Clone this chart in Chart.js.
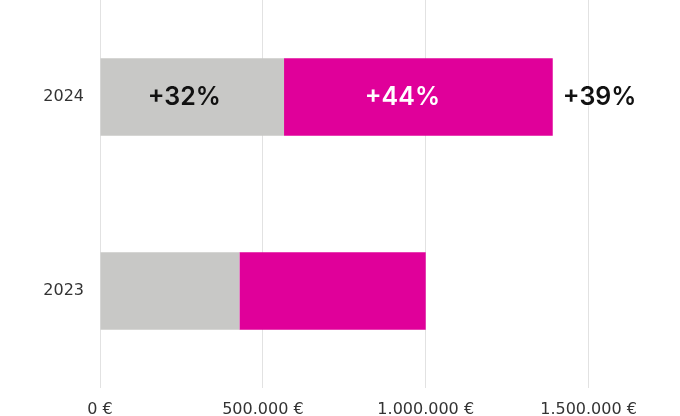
<!DOCTYPE html>
<html>
<head>
<meta charset="utf-8">
<script src="https://cdn.jsdelivr.net/npm/chart.js@4/dist/chart.umd.min.js"></script>
<style>
html,body{margin:0;padding:0;background:#fff;}
#wrap{width:680px;height:416px;}
</style>
</head>
<body>
<div id="wrap"><canvas id="c"></canvas></div>
<script>
const categories = ['2024', '2023'];
const grayValues = [565000, 428000];
const magentaValues = [825000, 572000];
const grayLabels = ['+32%', ''];
const magentaLabels = ['+44%', ''];
const totalLabels = ['+39%', ''];
const tickValues = [0, 500000, 1000000, 1500000];

const labelPlugin = {
  id: 'barLabels',
  afterDatasetsDraw(chart) {
    const ctx = chart.ctx;
    ctx.save();
    ctx.font = '600 25px Inter, "Noto Sans", sans-serif';
    ctx.textBaseline = 'middle';
    const m0 = chart.getDatasetMeta(0), m1 = chart.getDatasetMeta(1);
    categories.forEach((c, i) => {
      const g = m0.data[i], m = m1.data[i];
      if (grayLabels[i]) {
        ctx.fillStyle = '#111';
        ctx.textAlign = 'center';
        ctx.fillText(grayLabels[i], (g.x + g.base) / 2 - 8, g.y);
      }
      if (magentaLabels[i]) {
        ctx.fillStyle = '#fff';
        ctx.textAlign = 'center';
        ctx.fillText(magentaLabels[i], (m.x + m.base) / 2 - 16, m.y);
      }
      if (totalLabels[i]) {
        ctx.fillStyle = '#111';
        ctx.textAlign = 'left';
        ctx.fillText(totalLabels[i], m.x + 10, m.y);
      }
    });
    ctx.restore();
  }
};

new Chart(document.getElementById('c'), {
  type: 'bar',
  data: {
    labels: categories,
    datasets: [
      { data: grayValues, backgroundColor: '#c8c8c6', barPercentage: 0.8, categoryPercentage: 0.5 },
      { data: magentaValues, backgroundColor: '#e0009a', barPercentage: 0.8, categoryPercentage: 0.5 }
    ]
  },
  options: {
    indexAxis: 'y',
    responsive: true,
    maintainAspectRatio: false,
    animation: false,
    layout: { padding: { left: 0, right: 10, top: 0, bottom: 0 } },
    plugins: { legend: { display: false }, tooltip: { enabled: false } },
    scales: {
      x: {
        stacked: true,
        min: 0,
        max: 1750000,
        border: { display: false },
        grid: { color: '#e2e2e2', drawTicks: false, lineWidth: 1 },
        afterBuildTicks(scale) { scale.ticks = tickValues.map(v => ({ value: v })); },
        ticks: {
          padding: 12,
          color: '#333',
          font: { family: '"DejaVu Sans", sans-serif', size: 16 },
          callback: v => v.toLocaleString('de-DE') + ' €'
        },
        afterFit(scale) { scale.height = 28; scale.paddingTop = 0; scale.paddingBottom = 0; }
      },
      y: {
        stacked: true,
        border: { display: false },
        grid: { display: false },
        ticks: {
          padding: 8,
          color: '#333',
          font: { family: '"DejaVu Sans", sans-serif', size: 16 }
        },
        afterFit(scale) { scale.width = 100; scale.paddingTop = 0; scale.paddingBottom = 0; }
      }
    }
  },
  plugins: [labelPlugin]
});
</script>
</body>
</html>
